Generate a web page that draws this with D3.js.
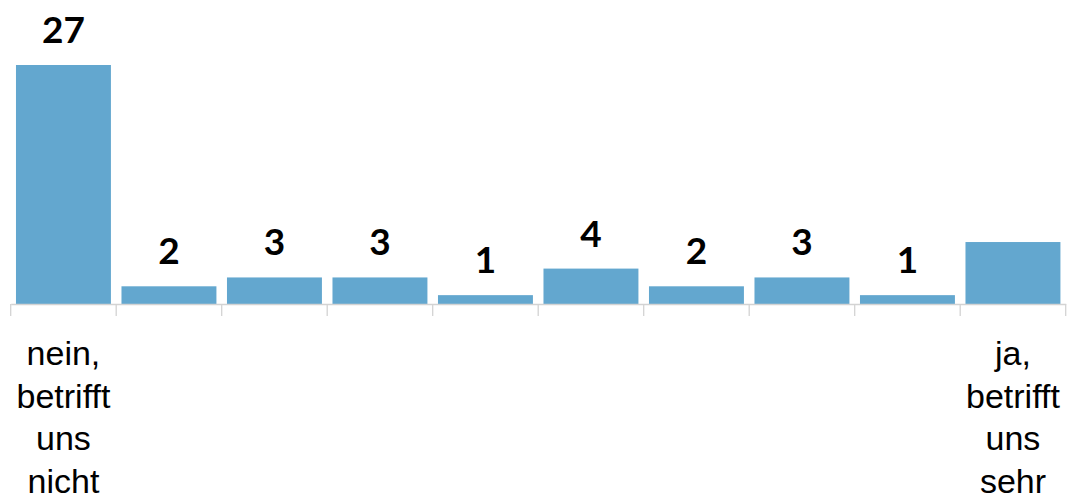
<!DOCTYPE html>
<html>
<head>
<meta charset="utf-8">
<script src="https://cdn.jsdelivr.net/npm/d3@7"></script>
<style>
  html, body { margin: 0; padding: 0; background: #fff; }
  svg { display: block; }
</style>
</head>
<body>
<svg id="chart" width="1069" height="500"></svg>
<script>
// Scale points 1..10, from "not affected" to "very affected"
const categories = ["1", "2", "3", "4", "5", "6", "7", "8", "9", "10"];
const values = [27, 2, 3, 3, 1, 4, 2, 3, 1, 7];
const valueLabels = ["27", "2", "3", "3", "1", "4", "2", "3", "1", null];
const tickLabels = [
  ["nein,", "betrifft", "uns", "nicht"],
  [], [], [], [], [], [], [], [],
  ["ja,", "betrifft", "uns", "sehr"]
];

const svg = d3.select("#chart");
const baseY = 304;

const x = d3.scaleBand()
  .domain(categories)
  .range([10.7, 1065.7])
  .paddingInner(0.1)
  .paddingOuter(0.05);

const y = d3.scaleLinear()
  .domain([0, 27])
  .range([baseY, 65]);

// Bars
svg.append("g")
  .selectAll("rect")
  .data(categories)
  .join("rect")
  .attr("x", (d) => x(d))
  .attr("y", (d, i) => y(values[i]))
  .attr("width", x.bandwidth())
  .attr("height", (d, i) => y(0) - y(values[i]))
  .attr("fill", "#63a7cf");

// Category axis: baseline plus tick marks on band boundaries
const axis = svg.append("g")
  .attr("transform", `translate(0,${baseY})`)
  .call(d3.axisBottom(x).tickSize(0).tickFormat(""));
axis.select(".domain").attr("stroke", "#d3d3d3").attr("stroke-width", 1.3);

const step = x.step();
const boundaries = categories.map((d) => x(d) - step * x.paddingOuter());
boundaries.push(x(categories[categories.length - 1]) + x.bandwidth() + step * x.paddingOuter());
axis.selectAll("line.bound")
  .data(boundaries)
  .join("line")
  .attr("class", "bound")
  .attr("x1", (d) => d)
  .attr("x2", (d) => d)
  .attr("y1", 0)
  .attr("y2", 12)
  .attr("stroke", "#d3d3d3")
  .attr("stroke-width", 1.3);

// Value labels above bars
svg.append("g")
  .selectAll("text")
  .data(categories.filter((d, i) => valueLabels[i] !== null))
  .join("text")
  .attr("x", (d) => x(d) + x.bandwidth() / 2)
  .attr("y", (d) => y(values[categories.indexOf(d)]) - 22)
  .attr("text-anchor", "middle")
  .attr("font-family", "Lato, 'Open Sans', sans-serif")
  .attr("font-weight", 700)
  .attr("font-size", 37)
  .attr("fill", "#000")
  .text((d) => valueLabels[categories.indexOf(d)]);

// Multi-line end labels under the axis
const lbl = svg.append("g")
  .selectAll("text")
  .data(categories)
  .join("text")
  .attr("text-anchor", "middle")
  .attr("font-family", "'Liberation Sans', Arial, sans-serif")
  .attr("font-size", 34)
  .attr("fill", "#000")
  .attr("transform", (d) => `translate(${x(d) + x.bandwidth() / 2},365)`);

lbl.selectAll("tspan")
  .data((d, i) => tickLabels[i])
  .join("tspan")
  .attr("x", 0)
  .attr("y", (d, j) => j * 42.5)
  .text((d) => d);
</script>
</body>
</html>
